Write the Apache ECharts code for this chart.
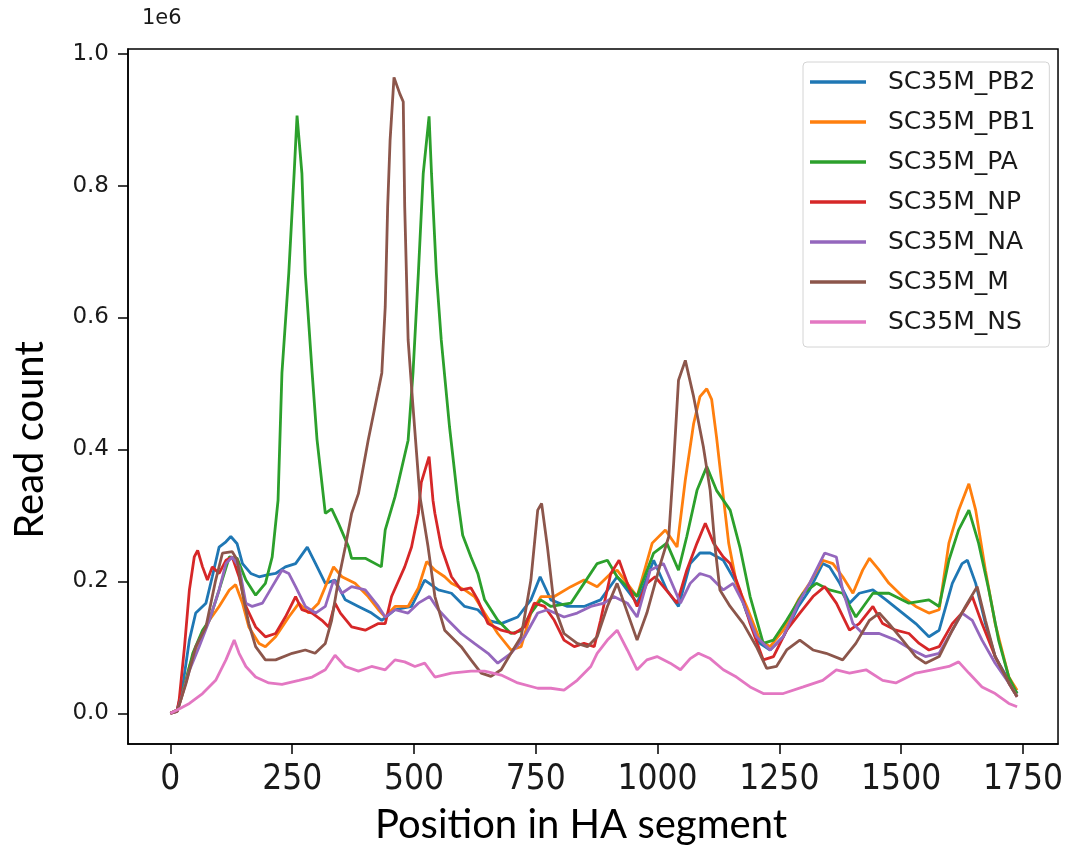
<!DOCTYPE html>
<html>
<head>
<meta charset="utf-8">
<script src="https://cdn.jsdelivr.net/npm/echarts@6/dist/echarts.min.js"></script>
<style>
html,body{margin:0;padding:0;background:#fff;}
#chart{width:1066px;height:848px;}
</style>
</head>
<body>
<div id="chart"></div>
<script>
// Values in units of 1e6 reads; x = position in HA segment
const seriesNames = ['SC35M_PB2','SC35M_PB1','SC35M_PA','SC35M_NP','SC35M_NA','SC35M_M','SC35M_NS'];
const xTicks = [0,250,500,750,1000,1250,1500,1750];
const yTicks = [0,0.2,0.4,0.6,0.8,1.0];

const PB2 = [[0,0],[14,0.005],[25,0.04],[39,0.111],[52,0.152],[73,0.167],[86,0.207],[100,0.252],[114,0.26],[124,0.268],[137,0.257],[148,0.227],[165,0.212],[182,0.207],[199,0.21],[216,0.212],[236,0.222],[257,0.227],[281,0.252],[298,0.227],[318,0.197],[338,0.202],[359,0.172],[386,0.162],[413,0.152],[434,0.141],[461,0.157],[495,0.162],[522,0.202],[550,0.187],[577,0.182],[604,0.162],[631,0.157],[652,0.141],[679,0.136],[713,0.146],[740,0.172],[759,0.207],[781,0.172],[815,0.162],[849,0.162],[883,0.172],[917,0.207],[958,0.167],[992,0.232],[1019,0.187],[1043,0.162],[1067,0.227],[1087,0.243],[1108,0.243],[1135,0.232],[1162,0.197],[1183,0.152],[1210,0.106],[1231,0.096],[1258,0.116],[1289,0.162],[1312,0.187],[1339,0.227],[1353,0.222],[1374,0.197],[1394,0.167],[1414,0.182],[1442,0.187],[1469,0.172],[1503,0.152],[1530,0.136],[1557,0.116],[1578,0.126],[1605,0.197],[1625,0.227],[1636,0.232],[1653,0.197],[1673,0.136],[1693,0.086],[1721,0.05],[1738,0.03]];

const PB1 = [[0,0],[14,0.003],[25,0.03],[39,0.071],[59,0.111],[80,0.141],[100,0.162],[121,0.187],[134,0.195],[148,0.167],[161,0.131],[182,0.106],[195,0.101],[216,0.116],[243,0.146],[264,0.167],[284,0.152],[304,0.167],[318,0.192],[335,0.222],[352,0.207],[379,0.197],[406,0.177],[427,0.157],[441,0.146],[461,0.162],[488,0.162],[509,0.19],[526,0.23],[543,0.217],[563,0.207],[577,0.197],[604,0.187],[624,0.177],[645,0.152],[672,0.121],[699,0.096],[720,0.101],[740,0.152],[761,0.177],[788,0.177],[822,0.192],[849,0.202],[876,0.192],[904,0.212],[917,0.217],[958,0.177],[989,0.258],[1016,0.278],[1040,0.252],[1057,0.354],[1074,0.439],[1087,0.48],[1101,0.492],[1111,0.476],[1121,0.419],[1131,0.354],[1146,0.258],[1162,0.197],[1183,0.162],[1210,0.111],[1231,0.101],[1258,0.126],[1289,0.172],[1312,0.197],[1339,0.232],[1360,0.227],[1380,0.207],[1401,0.182],[1421,0.217],[1435,0.235],[1455,0.217],[1475,0.197],[1503,0.177],[1530,0.162],[1557,0.152],[1578,0.157],[1598,0.258],[1618,0.308],[1639,0.348],[1653,0.308],[1673,0.217],[1693,0.136],[1721,0.055],[1738,0.035]];

const PA = [[0,0],[14,0.005],[32,0.05],[46,0.091],[66,0.126],[80,0.141],[100,0.187],[121,0.237],[137,0.235],[155,0.202],[175,0.179],[195,0.197],[209,0.237],[221,0.323],[229,0.516],[243,0.667],[254,0.818],[260,0.906],[270,0.818],[277,0.667],[291,0.516],[301,0.415],[318,0.303],[331,0.31],[345,0.288],[366,0.252],[372,0.235],[400,0.235],[433,0.222],[441,0.278],[461,0.328],[468,0.35],[488,0.414],[498,0.516],[509,0.667],[519,0.818],[531,0.905],[536,0.818],[546,0.667],[556,0.566],[573,0.434],[590,0.323],[600,0.27],[617,0.237],[631,0.212],[645,0.172],[672,0.141],[699,0.121],[719,0.125],[740,0.152],[760,0.172],[781,0.162],[822,0.167],[849,0.197],[876,0.227],[897,0.232],[917,0.207],[958,0.177],[992,0.243],[1019,0.258],[1043,0.217],[1060,0.268],[1081,0.338],[1101,0.374],[1121,0.338],[1149,0.308],[1169,0.252],[1190,0.177],[1217,0.106],[1238,0.111],[1265,0.141],[1299,0.182],[1326,0.197],[1353,0.187],[1380,0.182],[1407,0.146],[1442,0.182],[1475,0.182],[1516,0.167],[1557,0.172],[1578,0.162],[1598,0.232],[1618,0.278],[1639,0.308],[1659,0.258],[1680,0.187],[1700,0.111],[1721,0.055],[1738,0.03]];

const NP = [[0,0],[14,0.005],[18,0.02],[29,0.101],[39,0.187],[49,0.237],[56,0.247],[66,0.222],[76,0.202],[86,0.222],[100,0.212],[114,0.232],[127,0.237],[141,0.207],[155,0.162],[175,0.131],[195,0.116],[216,0.121],[236,0.146],[257,0.177],[270,0.157],[291,0.152],[311,0.141],[325,0.131],[338,0.167],[349,0.152],[372,0.131],[400,0.126],[427,0.136],[441,0.136],[454,0.177],[481,0.222],[495,0.252],[509,0.303],[515,0.35],[531,0.389],[539,0.323],[543,0.303],[556,0.252],[577,0.207],[597,0.187],[617,0.19],[631,0.172],[652,0.136],[679,0.126],[706,0.121],[727,0.131],[747,0.167],[768,0.162],[788,0.141],[808,0.111],[829,0.101],[849,0.106],[870,0.101],[883,0.141],[904,0.212],[921,0.232],[938,0.197],[958,0.162],[978,0.197],[995,0.207],[1012,0.192],[1040,0.167],[1060,0.217],[1081,0.258],[1098,0.288],[1115,0.258],[1135,0.237],[1149,0.227],[1169,0.187],[1190,0.136],[1217,0.081],[1238,0.086],[1265,0.126],[1292,0.152],[1319,0.177],[1343,0.192],[1367,0.167],[1394,0.126],[1414,0.136],[1442,0.162],[1462,0.136],[1489,0.126],[1516,0.121],[1537,0.106],[1557,0.096],[1578,0.101],[1605,0.136],[1625,0.152],[1646,0.177],[1666,0.136],[1693,0.086],[1721,0.046],[1738,0.025]];

const NA = [[0,0],[14,0.003],[25,0.03],[39,0.065],[59,0.101],[80,0.141],[100,0.187],[114,0.227],[127,0.237],[141,0.222],[155,0.167],[168,0.162],[189,0.167],[209,0.192],[229,0.217],[243,0.212],[257,0.192],[277,0.162],[298,0.152],[318,0.162],[335,0.202],[352,0.182],[372,0.192],[400,0.187],[427,0.162],[441,0.146],[461,0.157],[488,0.152],[509,0.167],[532,0.177],[550,0.157],[570,0.141],[597,0.121],[624,0.106],[652,0.091],[672,0.076],[699,0.091],[727,0.116],[754,0.152],[774,0.157],[808,0.146],[835,0.152],[863,0.162],[890,0.167],[910,0.177],[938,0.167],[958,0.146],[985,0.217],[1012,0.227],[1047,0.167],[1067,0.197],[1087,0.212],[1108,0.207],[1135,0.187],[1155,0.197],[1176,0.167],[1203,0.116],[1231,0.096],[1258,0.116],[1289,0.167],[1312,0.197],[1343,0.243],[1367,0.237],[1380,0.187],[1401,0.136],[1421,0.121],[1455,0.121],[1489,0.111],[1523,0.096],[1550,0.086],[1578,0.091],[1605,0.126],[1625,0.152],[1646,0.141],[1666,0.111],[1693,0.076],[1721,0.046],[1738,0.025]];

const M = [[0,0],[14,0.003],[32,0.045],[52,0.101],[73,0.131],[93,0.202],[107,0.243],[127,0.245],[137,0.233],[148,0.182],[161,0.136],[175,0.101],[195,0.081],[216,0.081],[250,0.091],[277,0.096],[297,0.091],[318,0.106],[331,0.141],[345,0.202],[359,0.252],[372,0.303],[386,0.333],[406,0.414],[427,0.49],[434,0.516],[441,0.616],[446,0.768],[451,0.869],[459,0.964],[471,0.939],[478,0.927],[481,0.768],[488,0.566],[498,0.465],[512,0.33],[529,0.252],[543,0.177],[563,0.126],[597,0.101],[617,0.081],[638,0.061],[658,0.056],[679,0.066],[699,0.091],[720,0.116],[740,0.202],[754,0.308],[762,0.318],[774,0.252],[788,0.162],[808,0.121],[835,0.106],[856,0.101],[876,0.116],[897,0.162],[917,0.197],[958,0.111],[978,0.152],[1006,0.227],[1023,0.268],[1033,0.379],[1043,0.505],[1057,0.535],[1074,0.48],[1094,0.404],[1108,0.338],[1118,0.252],[1128,0.187],[1149,0.162],[1176,0.136],[1203,0.101],[1224,0.068],[1244,0.071],[1265,0.096],[1292,0.111],[1319,0.096],[1346,0.091],[1380,0.081],[1407,0.106],[1435,0.141],[1455,0.152],[1475,0.136],[1503,0.111],[1530,0.086],[1550,0.076],[1578,0.086],[1605,0.126],[1632,0.162],[1656,0.192],[1673,0.141],[1693,0.086],[1721,0.046],[1738,0.025]];

const NS = [[0,0],[14,0.005],[39,0.015],[66,0.03],[93,0.05],[114,0.081],[131,0.111],[141,0.091],[155,0.071],[175,0.055],[202,0.046],[229,0.044],[264,0.05],[291,0.055],[318,0.066],[338,0.088],[359,0.071],[386,0.064],[413,0.071],[441,0.066],[461,0.081],[481,0.078],[502,0.071],[522,0.076],[543,0.055],[577,0.061],[617,0.064],[645,0.064],[679,0.058],[713,0.046],[754,0.038],[781,0.038],[808,0.035],[835,0.05],[863,0.071],[876,0.091],[897,0.111],[917,0.126],[938,0.096],[958,0.066],[978,0.081],[999,0.086],[1026,0.076],[1047,0.066],[1067,0.083],[1084,0.091],[1108,0.083],[1135,0.066],[1162,0.055],[1190,0.04],[1217,0.03],[1258,0.03],[1299,0.04],[1339,0.05],[1367,0.066],[1394,0.061],[1428,0.066],[1462,0.05],[1489,0.046],[1530,0.061],[1564,0.066],[1598,0.071],[1618,0.078],[1639,0.061],[1666,0.04],[1693,0.03],[1721,0.015],[1738,0.01]];

const seriesData = [PB2, PB1, PA, NP, NA, M, NS];
const colors = ['#1f77b4','#ff7f0e','#2ca02c','#d62728','#9467bd','#8c564b','#e377c2'];

const chart = echarts.init(document.getElementById('chart'), null, {renderer:'canvas'});
const tickFont = "'DejaVu Sans', sans-serif";
chart.setOption({
  animation: false,
  backgroundColor: '#fff',
  color: colors,
  grid: {left: 128, right: 3, top: 49, bottom: 104, show: true, borderColor: '#000', borderWidth: 1.5, backgroundColor: 'transparent'},
  legend: {
    orient: 'vertical', left: 803, top: 62,
    padding: [5, 14, 10, 7],
    icon: 'rect',
    itemWidth: 56, itemHeight: 3.5, itemGap: 10,
    backgroundColor: 'rgba(255,255,255,0.85)', borderColor: '#d4d4d4', borderWidth: 1, borderRadius: 4,
    textStyle: {fontFamily: tickFont, fontSize: 25, color: '#1a1a1a', lineHeight: 30, padding: [0,0,0,17]},
    data: seriesNames
  },
  xAxis: {
    type: 'value', min: -87, max: 1822,
    axisLine: {show: true, onZero: false, lineStyle: {color: '#000', width: 1.5}},
    axisTick: {show: true, customValues: xTicks, length: 10, lineStyle: {color: '#000', width: 1.5}},
    axisLabel: {customValues: xTicks, margin: 18, color: '#1a1a1a', fontSize: 35, fontFamily: "'Liberation Sans Narrow', 'DejaVu Sans Condensed', sans-serif", formatter: v => String(v)},
    splitLine: {show: false}
  },
  yAxis: {
    type: 'value', min: -0.0465, max: 1.007,
    axisLine: {show: true, onZero: false, lineStyle: {color: '#000', width: 1.5}},
    axisTick: {show: true, customValues: yTicks, length: 10, lineStyle: {color: '#000', width: 1.5}},
    axisLabel: {customValues: yTicks, margin: 19, color: '#1a1a1a', fontSize: 23, fontFamily: tickFont, formatter: v => v.toFixed(1)},
    splitLine: {show: false}
  },
  graphic: [
    {type: 'text', left: 142, top: 8, style: {text: '1e6', font: "21px 'DejaVu Sans'", fill: '#1a1a1a'}},
    {type: 'text', x: 581, y: 825, style: {text: 'Position in HA segment', font: "40px Lato", fill: '#000', textAlign: 'center', textVerticalAlign: 'middle'}},
    {type: 'text', x: 30, y: 440, rotation: Math.PI/2, style: {text: 'Read count', font: "40px Lato", fill: '#000', textAlign: 'center', textVerticalAlign: 'middle'}}
  ],
  series: seriesNames.map((n, i) => ({
    name: n, type: 'line', data: seriesData[i], symbol: 'none', showSymbol: false,
    lineStyle: {width: 2.8, color: colors[i]}, itemStyle: {color: colors[i]}
  }))
});
</script>
</body>
</html>
